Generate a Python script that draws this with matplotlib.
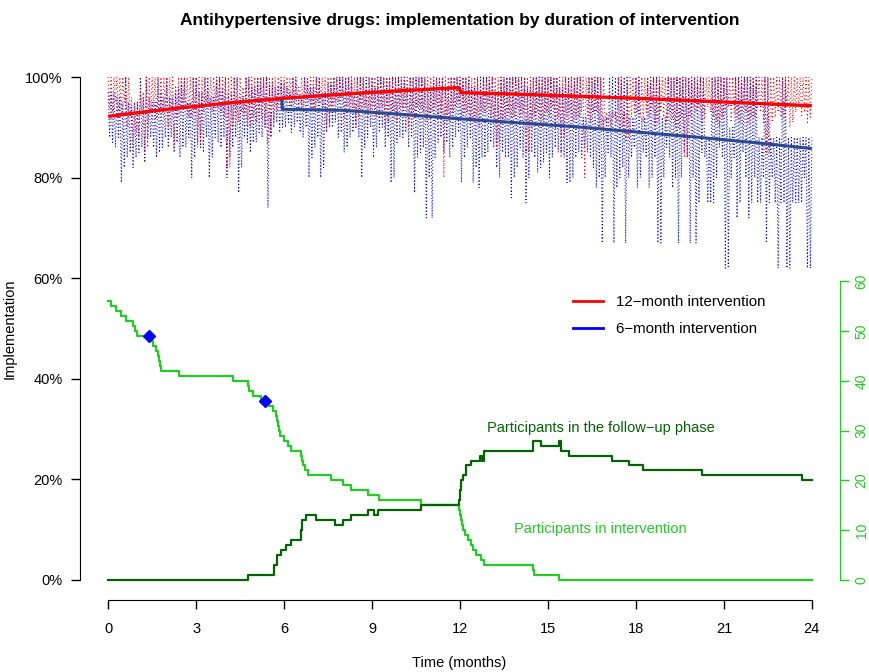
import numpy as np
import matplotlib
matplotlib.use("Agg")
import matplotlib.pyplot as plt
from matplotlib.lines import Line2D

plt.rcParams['font.family'] = ['Liberation Sans', 'DejaVu Sans']

# ---------------- data ----------------
# daily implementation (dotted), read as alternating peak / trough values (%), 0.05-month steps
red_hi = [100, 100, 100, 100, 100, 100, 100, 100, 96, 95, 95, 97, 97, 100, 100, 100, 100, 100, 100, 100,
          100, 100, 100, 98, 100, 100, 100, 100, 100, 100, 100, 100, 100, 100, 98, 100, 100, 100, 100, 100,
          100, 100, 100, 100, 100, 100, 98, 100, 100, 100, 100, 100, 100, 100, 100, 100, 100, 100, 100, 100,
          100, 100, 100, 100, 100, 98, 100, 100, 100, 100, 100, 100, 100, 100, 100, 100, 100, 100, 100, 100,
          100, 100, 100, 100, 100, 100, 100, 100, 98, 100, 100, 100, 100, 100, 100, 100, 100, 100, 100, 100,
          100, 100, 100, 100, 100, 100, 100, 100, 100, 100, 100, 100, 100, 100, 100, 100, 100, 100, 100, 100,
          100, 100, 100, 100, 100, 100, 100, 98, 100, 100, 100, 100, 100, 100, 100, 100, 100, 100, 100, 100,
          100, 100, 100, 100, 100, 100, 100, 100, 100, 100, 100, 100, 100, 100, 100, 100, 100, 100, 100, 100,
          100, 100, 100, 100, 100, 100, 100, 100, 100, 100, 93, 93, 93, 93, 100, 100, 93, 100, 100, 100,
          100, 100, 100, 100, 100, 100, 100, 100, 100, 100, 100, 100, 100, 100, 100, 100, 100, 100, 100, 100,
          100, 100, 100, 100, 100, 100, 100, 100, 100, 100, 100, 100, 100, 100, 100, 100, 100, 100, 100, 100,
          100, 100, 100, 100, 100, 100, 100, 100, 100, 100, 100, 100, 100, 100, 100, 100, 100, 100, 100, 100, 100]
red_lo = [94, 93, 95, 92, 93, 95, 90, 92, 86, 89, 88, 93, 85, 86, 93, 94, 92, 93, 93, 94,
          90, 93, 86, 92, 93, 94, 94, 92, 92, 93, 86, 87, 93, 95, 94, 93, 95, 94, 93, 92,
          82, 82, 90, 92, 91, 93, 92, 90, 90, 92, 91, 93, 92, 90, 87, 88, 91, 93, 95, 94,
          95, 96, 94, 95, 96, 95, 94, 96, 95, 94, 93, 95, 95, 94, 89, 91, 94, 95, 95, 96,
          92, 94, 94, 93, 90, 92, 93, 94, 91, 93, 94, 92, 92, 94, 90, 91, 93, 92, 91, 94,
          93, 94, 90, 92, 92, 94, 94, 93, 91, 92, 93, 94, 92, 93, 80, 92, 91, 93, 94, 95,
          92, 93, 93, 91, 91, 92, 90, 93, 93, 94, 92, 91, 86, 87, 91, 92, 93, 91, 92, 94,
          92, 93, 85, 85, 90, 92, 93, 91, 91, 93, 92, 94, 90, 92, 84, 88, 92, 93, 91, 92,
          92, 93, 80, 92, 91, 93, 93, 90, 90, 91, 91, 90, 92, 91, 89, 90, 87, 88, 92, 93,
          93, 92, 91, 93, 92, 94, 90, 91, 93, 92, 91, 93, 92, 90, 90, 92, 84, 84, 92, 94,
          93, 94, 91, 92, 94, 93, 92, 91, 90, 92, 93, 94, 91, 93, 92, 91, 94, 93, 91, 92,
          92, 94, 93, 91, 85, 85, 91, 92, 93, 92, 92, 94, 90, 91, 93, 94, 92, 93, 91, 92]
blue_hi = [97, 97, 97, 96, 96, 95, 100, 95, 94, 95, 95, 100, 96, 100, 96, 95, 95, 100, 97, 96,
           100, 96, 96, 98, 98, 100, 100, 95, 95, 100, 100, 97, 97, 100, 100, 96, 96, 100, 100, 98,
           100, 97, 97, 100, 100, 96, 96, 100, 100, 98, 98, 100, 100, 100, 100, 99, 99, 98, 98, 99,
           99, 98, 97, 100, 100, 96, 96, 100, 100, 98, 98, 100, 100, 97, 97, 99, 99, 100, 100, 100,
           100, 100, 100, 100, 97, 100, 100, 100, 100, 100, 100, 98, 100, 100, 100, 100, 100, 100, 100, 100,
           100, 100, 98, 100, 100, 100, 100, 100, 100, 97, 97, 100, 100, 100, 100, 98, 98, 100, 100, 100,
           100, 100, 100, 100, 98, 98, 100, 100, 100, 100, 100, 100, 97, 97, 100, 100, 100, 100, 100, 100,
           100, 100, 100, 98, 98, 100, 100, 100, 100, 100, 100, 100, 100, 100, 98, 98, 100, 100, 100, 100,
           100, 100, 92, 92, 100, 100, 100, 100, 100, 92, 92, 100, 100, 100, 100, 100, 100, 100, 92, 92,
           100, 100, 92, 92, 100, 100, 100, 100, 100, 92, 92, 100, 100, 100, 100, 100, 100, 100, 100, 100,
           100, 100, 100, 100, 88, 88, 100, 100, 100, 100, 100, 100, 90, 90, 100, 100, 100, 100, 100, 100,
           100, 100, 88, 88, 100, 100, 88, 88, 88, 88, 100, 100, 88, 88, 88, 88, 88, 88, 88, 88, 88]
blue_lo = [88, 87, 86, 88, 79, 82, 84, 85, 82, 84, 85, 86, 83, 88, 88, 86, 84, 85, 86, 88,
           86, 88, 85, 87, 84, 86, 86, 88, 80, 84, 87, 86, 85, 88, 80, 84, 88, 87, 86, 88,
           80, 84, 86, 88, 77, 82, 88, 87, 85, 87, 87, 89, 88, 90, 74, 88, 90, 91, 89, 90,
           90, 91, 89, 90, 91, 89, 88, 90, 80, 84, 86, 88, 80, 82, 89, 90, 90, 91, 88, 89,
           85, 86, 88, 89, 90, 88, 80, 86, 88, 90, 84, 86, 89, 90, 86, 88, 79, 80, 87, 88,
           88, 89, 86, 88, 77, 84, 85, 86, 72, 80, 72, 84, 87, 88, 85, 87, 84, 86, 88, 89,
           79, 84, 86, 88, 79, 82, 78, 84, 84, 85, 87, 86, 82, 80, 85, 84, 84, 76, 80, 82,
           86, 84, 75, 80, 85, 84, 81, 82, 83, 85, 80, 84, 86, 85, 85, 84, 79, 79, 80, 84,
           85, 84, 86, 85, 84, 82, 78, 80, 67, 80, 85, 84, 67, 78, 80, 82, 67, 80, 84, 86,
           78, 80, 85, 84, 78, 80, 84, 67, 67, 80, 86, 84, 78, 80, 67, 80, 85, 84, 67, 80,
           67, 75, 85, 84, 75, 75, 75, 80, 86, 84, 62, 62, 80, 84, 72, 75, 85, 80, 72, 75,
           80, 75, 75, 80, 67, 75, 80, 75, 62, 75, 75, 62, 62, 75, 75, 75, 75, 80, 62, 62]

# modelled implementation (solid lines), %
red_trend_t = [0, 2, 4, 6, 8, 10, 11.95, 12.05, 14, 16, 18, 20, 22, 24]
red_trend_v = [92.2, 93.6, 94.8, 95.8, 96.6, 97.3, 97.9, 96.9, 96.6, 96.2, 95.8, 95.3, 94.8, 94.3]
blue_trend_t = [5.92, 5.94, 8, 10, 12, 14, 16, 18, 20, 22, 24]
blue_trend_v = [95.8, 93.6, 93.4, 92.6, 91.7, 90.9, 90.1, 89.1, 88.1, 87.0, 85.8]

# participants (right axis)
interv_t = [0, 0.10, 0.27, 0.44, 0.61, 0.84, 0.92, 0.99, 1.45, 1.52, 1.64, 1.69, 1.73, 1.77, 1.81,
            2.43, 4.25, 4.76, 4.82, 4.93, 5.22, 5.50, 5.61, 5.73, 5.76, 5.80, 5.83, 5.86,
            6.01, 6.12, 6.24, 6.58, 6.62, 6.66, 6.70, 6.81, 7.60, 8.00, 8.28, 8.85, 9.25,
            10.67, 11.98, 12.01, 12.04, 12.07, 12.10, 12.17, 12.27, 12.38, 12.45, 12.55,
            12.70, 12.83, 14.48, 14.52, 15.38, 24.0]
interv_n = [56, 55, 54, 53, 52, 51, 50, 49, 48, 47, 46, 45, 44, 43, 42,
            41, 40, 39, 38, 37, 36, 35, 34, 33, 32, 31, 30, 29,
            28, 27, 26, 25, 24, 23, 22, 21, 20, 19, 18, 17, 16,
            15, 14, 13, 12, 11, 10, 9, 8, 7, 6, 5,
            4, 3, 2, 1, 0, 0]
follow_t = [0, 4.76, 5.65, 5.76, 5.90, 6.07, 6.24, 6.58, 6.62, 6.75, 7.09, 7.72, 8.00, 8.28,
            8.85, 9.08, 9.19, 10.67, 11.98, 12.01, 12.05, 12.10, 12.20, 12.38, 12.69, 12.74,
            12.83, 14.48, 14.76, 15.39, 15.44, 15.73, 17.20, 17.77, 18.23, 20.27, 23.68, 24.0]
follow_n = [0, 1, 3, 5, 6, 7, 8, 10, 12, 13, 12, 11, 12, 13,
            14, 13, 14, 15, 16, 18, 20, 21, 23, 24, 25, 24,
            26, 28, 27, 28, 26, 25, 24, 23, 22, 21, 20, 20]

marker_t = [1.41, 5.35]
marker_n = [49, 36]

x_ticks = [0, 3, 6, 9, 12, 15, 18, 21, 24]
y_ticks = [0, 0.2, 0.4, 0.6, 0.8, 1.0]
y_ticklabels = ['0%', '20%', '40%', '60%', '80%', '100%']
n_ticks = [0, 10, 20, 30, 40, 50, 60]

# ---------------- figure ----------------
RED = '#ff0000'
BLUE = '#0000ff'
NAVY = '#2b4a8c'
GREEN = '#22cc22'
DKGREEN = '#006400'
FS = 10.5

fig = plt.figure(figsize=(8.7, 6.72), dpi=100)
ax = fig.add_axes([80 / 870, 72 / 672, 760 / 870, 543 / 672])
ax.set_xlim(-0.96, 24.96)
ax.set_ylim(-0.04, 1.04)

n = len(red_lo)
t_all = np.linspace(0, 24, 2 * n + 1)
red_vals = np.empty(2 * n + 1)
red_vals[0::2] = red_hi
red_vals[1::2] = red_lo
blue_vals = np.empty(2 * n + 1)
blue_vals[0::2] = blue_hi
blue_vals[1::2] = blue_lo

ax.plot(t_all, blue_vals / 100, color=BLUE, lw=0.75, linestyle=(0, (1, 2.2)), zorder=2)
ax.plot(t_all, red_vals / 100, color=RED, lw=0.75, linestyle=(0, (1, 2.6)), zorder=2.1)

ax.plot(blue_trend_t, np.array(blue_trend_v) / 100, color=NAVY, lw=2.2, solid_capstyle='butt', zorder=3)
ax.plot(red_trend_t, np.array(red_trend_v) / 100, color=RED, lw=2.4, solid_capstyle='butt', zorder=3.1)

for s in ['top', 'right']:
    ax.spines[s].set_visible(False)
ax.spines['left'].set_bounds(0, 1)
ax.spines['bottom'].set_bounds(0, 24)
ax.set_xticks(x_ticks)
ax.set_yticks(y_ticks)
ax.set_yticklabels(y_ticklabels)
ax.tick_params(axis='both', length=6.5, width=1, labelsize=FS)
ax.tick_params(axis='x', pad=9)
ax.tick_params(axis='y', pad=6)

ax.set_ylabel('Implementation', fontsize=FS)
ax.yaxis.set_label_coords(-0.083, 0.5)

legend_handles = [Line2D([0], [0], color=RED, lw=2), Line2D([0], [0], color=BLUE, lw=2)]
ax.legend(legend_handles, ['12\u2212month intervention', '6\u2212month intervention'],
          loc='upper left', bbox_to_anchor=(573 / 870, 1 - 295 / 672),
          bbox_transform=fig.transFigure, frameon=False, fontsize=10.8,
          borderpad=0, borderaxespad=0, handlelength=2.0, handletextpad=0.85,
          labelspacing=0.85)

ax2 = ax.twinx()
ax2.set_ylim(-4, 105)
ax2.step(interv_t, interv_n, where='post', color=GREEN, lw=1.6)
ax2.step(follow_t, follow_n, where='post', color=DKGREEN, lw=1.6)
ax2.plot(marker_t, marker_n, 'D', color=BLUE, markersize=6, zorder=5)
for s in ['top', 'left', 'bottom']:
    ax2.spines[s].set_visible(False)
ax2.spines['right'].set_bounds(0, 60)
ax2.spines['right'].set_color(GREEN)
ax2.set_yticks(n_ticks)
ax2.tick_params(axis='y', colors=GREEN, length=6.5, width=1, labelsize=10, pad=4,
                labelrotation=90)
for lbl in ax2.get_yticklabels():
    lbl.set_va('center')

ax2.text(16.8, 30.5, 'Participants in the follow\u2212up phase', color=DKGREEN,
         fontsize=FS, ha='center', va='center')
ax2.text(16.8, 10.3, 'Participants in intervention', color=GREEN,
         fontsize=FS, ha='center', va='center')

fig.text(460 / 870, 1 - 20 / 672,
         'Antihypertensive drugs: implementation by duration of intervention',
         ha='center', va='center', fontsize=12.5, fontweight='bold')
fig.text(459 / 870, 1 - 663 / 672, 'Time (months)', ha='center', va='center', fontsize=FS)

fig.savefig('out.png', dpi=100)
